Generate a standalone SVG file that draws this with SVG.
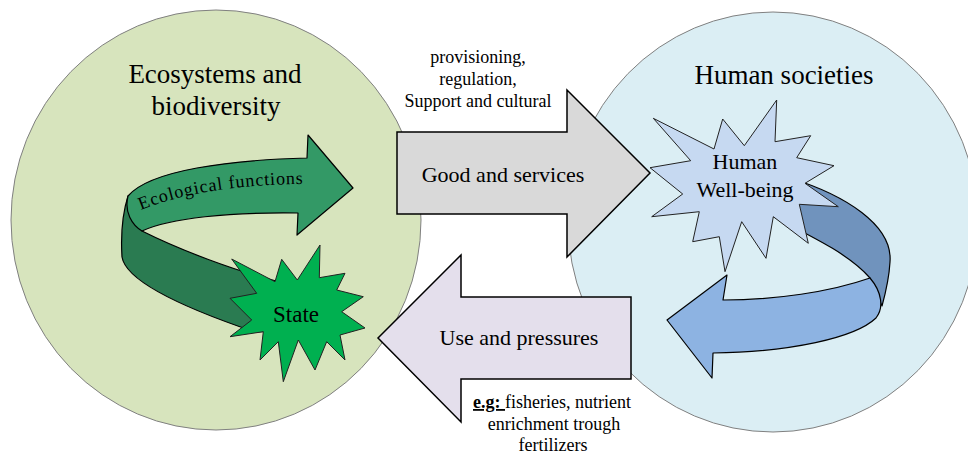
<svg xmlns="http://www.w3.org/2000/svg" width="968" height="455" viewBox="0 0 968 455" font-family="'Liberation Serif', 'DejaVu Serif', serif">
<style>
text{font-family:'Liberation Serif','DejaVu Serif',serif;fill:#000}
.circ{stroke:#808080;stroke-width:1}
.arr{stroke:#000;stroke-width:1.5;stroke-linejoin:miter}
.band{stroke:#000;stroke-width:1.2;stroke-linejoin:round}
.star{stroke:#222;stroke-width:1}
.title{font-size:27px;text-anchor:middle}
.lbl{font-size:22px;text-anchor:middle}
.note{font-size:18px;text-anchor:middle}
</style>
<defs>
<path id="ecoPath" d="M141,210 Q205,184 310,184"/>
</defs>
<rect width="968" height="455" fill="#ffffff"/>
<g id="node-ecosystems">
<ellipse class="circ" cx="216" cy="220" rx="205" ry="210" fill="#d7e4bd"/>
<text class="title" x="215" y="83">Ecosystems and</text>
<text class="title" x="216" y="115">biodiversity</text>
</g>
<g id="node-human-societies">
<ellipse class="circ" cx="773" cy="222" rx="205" ry="210" fill="#dbeef4"/>
<text class="title" x="784" y="84">Human societies</text>
</g>
<g id="connectors">
<g id="edge-goods">
<path class="arr" d="M397,132 L567,132 L567,90 L650,173 L567,257 L567,214 L397,214 Z" fill="#d9d9d9"/>
<text class="lbl" x="503" y="182">Good and services</text>
<text class="note" x="478" y="63">provisioning,</text>
<text class="note" x="478" y="85">regulation,</text>
<text class="note" x="478" y="107">Support and cultural</text>
</g>
<g id="edge-pressures">
<path class="arr" d="M631,297 L461,297 L461,255 L378,338 L461,422 L461,379 L631,379 Z" fill="#e4dfec"/>
<text class="lbl" x="519" y="345">Use and pressures</text>
<text class="note" x="552" y="408"><tspan font-weight="bold" text-decoration="underline">e.g: </tspan>fisheries, nutrient</text>
<text class="note" x="554" y="430">enrichment trough</text>
<text class="note" x="553" y="451">fertilizers</text>
</g>
<g id="edge-ecological-functions">
<path class="band" d="M128,196 C122,215 121,240 122,257 C126,282 190,310 255,332 L300,330 L280,282 C235,271 180,250 142,231 Z" fill="#2a7b51"/>
<path class="band" d="M128,196 C150,170 230,160 307,158 L308,135 L353,188 L297,235 L298,213 C230,212 170,218 142,231 C132,225 124,212 128,196 Z" fill="#339966"/>
<text font-size="18"><textPath href="#ecoPath" textLength="165" lengthAdjust="spacing">Ecological functions</textPath></text>
</g>
<g id="edge-wellbeing-loop">
<path class="band" d="M790,178 C845,195 893,225 890,262 C889,280 885,295 882,306 L870,278 C850,255 815,238 770,215 Z" fill="#7093bd"/>
<path class="band" d="M870,278 C830,292 775,300 723,300 L727,275 L667,320 L712,378 L713,353 C790,352 855,338 876,318 C884,308 882,292 870,278 Z" fill="#8db3e2"/>
</g>
</g>
<g id="node-state">
<polygon class="star" fill="#00b050" points="231.7,259 275,281.7 281.7,259.3 297.3,280 320,245 319.3,277.7 345,273.3 336.7,290 363.3,296.7 341.7,311.7 365,328 340,335 345,360 326.7,341.7 315,370 298.3,340 283.3,381.7 278.3,341.7 260,360 263.3,331.7 230,336.7 251.7,320 230,298.3 256.7,293.3"/>
<text font-size="23" text-anchor="middle" x="296" y="322">State</text>
</g>
<g id="node-wellbeing">
<polygon class="star" stroke="#444" fill="#c6d9f1" points="653.3,118.3 714,149 722.7,119 744.3,145.7 776.7,100 775,141.7 810.7,135.7 796.7,157.7 834,165.7 805,183.3 838.3,206.7 799.3,204.3 808.3,243.3 773.3,216.7 766,258.3 741.7,221.7 725,271.7 719.3,236.7 692.7,241.7 699.3,211.7 651.7,216.7 682.7,194 650,167.7 690.7,160.7"/>
<text class="lbl" x="745" y="169">Human</text>
<text class="lbl" x="745" y="197">Well-being</text>
</g>
</svg>
